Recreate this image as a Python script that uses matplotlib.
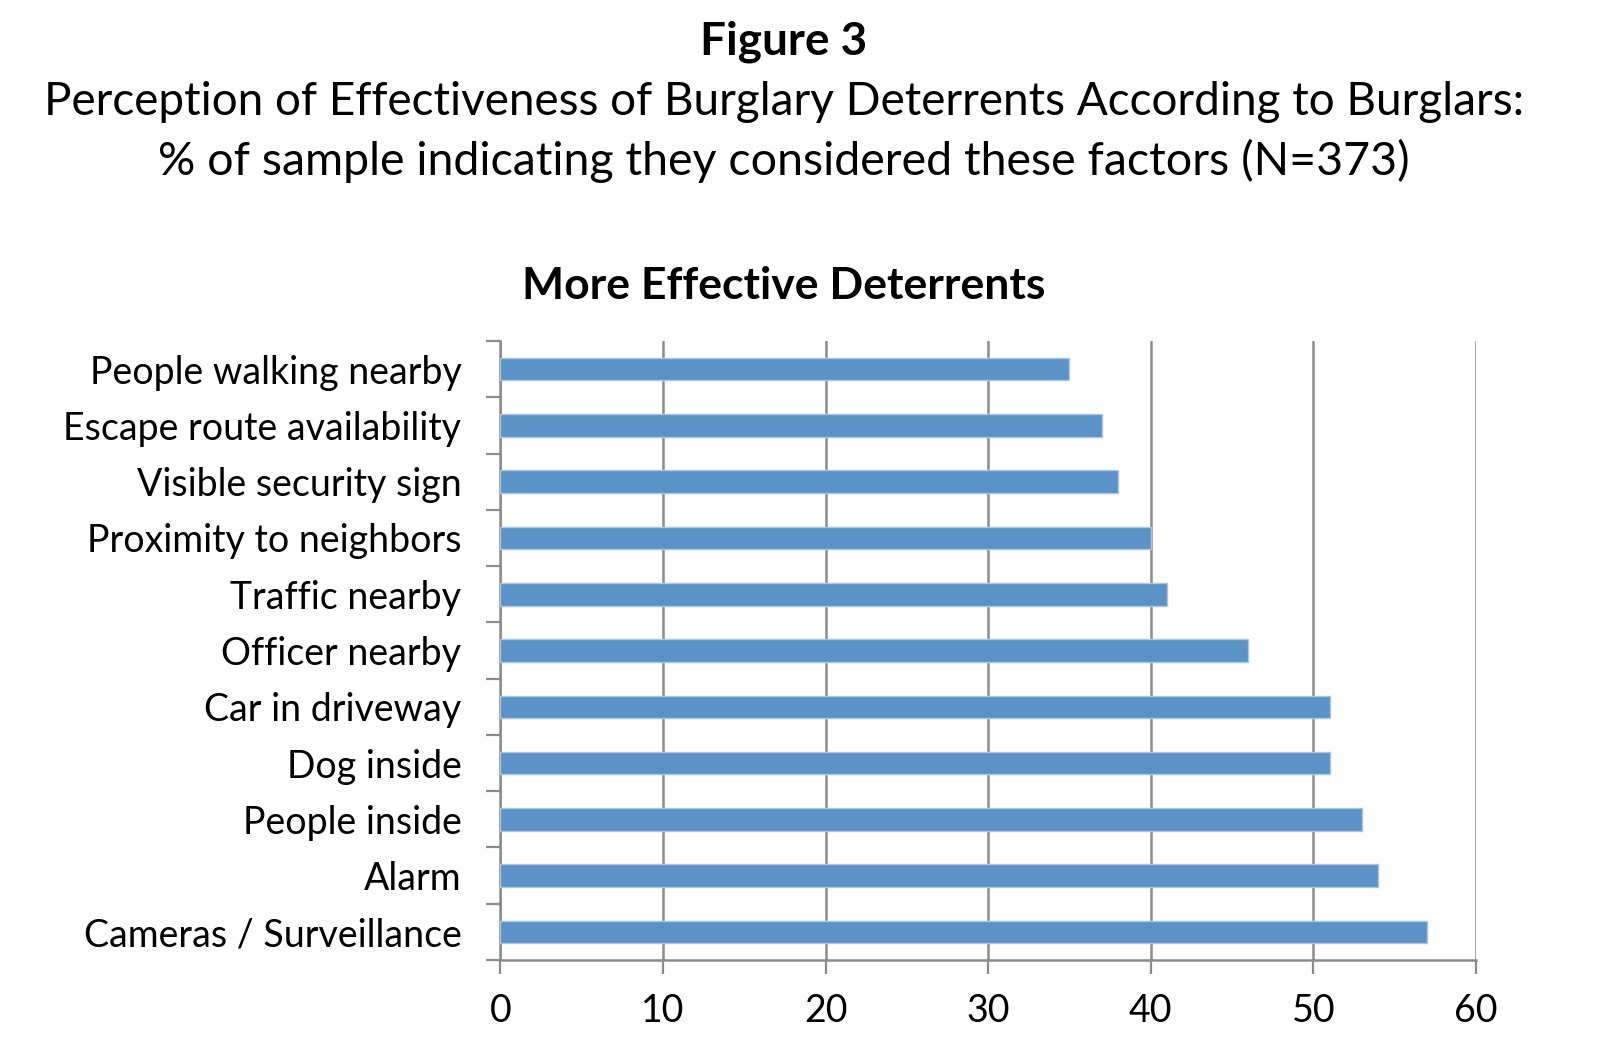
import numpy as np
import matplotlib.pyplot as plt

categories = ["Cameras / Surveillance", "Alarm", "People inside", "Dog inside",
              "Car in driveway", "Officer nearby", "Traffic nearby",
              "Proximity to neighbors", "Visible security sign",
              "Escape route availability", "People walking nearby"]
values = [57, 54, 53, 51, 51, 46, 41, 40, 38, 37, 35]
x_ticks = [0, 10, 20, 30, 40, 50, 60]

plt.rcParams['font.family'] = ['Lato', 'DejaVu Sans']
grey = '#8c8c8c'

fig = plt.figure(figsize=(16, 10.64), dpi=100)
ax = fig.add_axes([0.3127, 0.0977, 0.6098, 0.5818])

y = np.arange(len(categories))
ax.barh(y, values, height=0.40, color='#5b93c6', edgecolor='#a9c6e3', linewidth=1, zorder=3)

ax.set_xlim(0, 60)
ax.set_ylim(-0.5, len(categories) - 0.5)
ax.set_xticks(x_ticks)
ax.set_xticklabels([str(t) for t in x_ticks], fontsize=27)
ax.set_yticks(y)
ax.set_yticklabels(categories, fontsize=27)
ax.set_yticks(np.arange(-0.5, len(categories), 1), minor=True)
ax.tick_params(axis='y', which='major', length=0, pad=28)
ax.tick_params(axis='y', which='minor', length=10, width=1.6, color=grey, direction='out')
ax.tick_params(axis='x', which='major', length=10, width=1.6, color=grey, direction='out', pad=14)

ax.grid(axis='x', color=grey, linewidth=1.8, zorder=0)
for s in ['top', 'right']:
    ax.spines[s].set_visible(False)
for s in ['left', 'bottom']:
    ax.spines[s].set_color(grey)
    ax.spines[s].set_linewidth(1.8)

fig.text(0.49, 0.961, "Figure 3", ha='center', va='center', fontsize=33, fontweight='bold')
fig.text(0.49, 0.904, "Perception of Effectiveness of Burglary Deterrents According to Burglars:",
         ha='center', va='center', fontsize=33)
fig.text(0.49, 0.849, "% of sample indicating they considered these factors (N=373)",
         ha='center', va='center', fontsize=33.5)
fig.text(0.49, 0.731, "More Effective Deterrents", ha='center', va='center',
         fontsize=32, fontweight='bold')

fig.savefig("out.png", dpi=100)
